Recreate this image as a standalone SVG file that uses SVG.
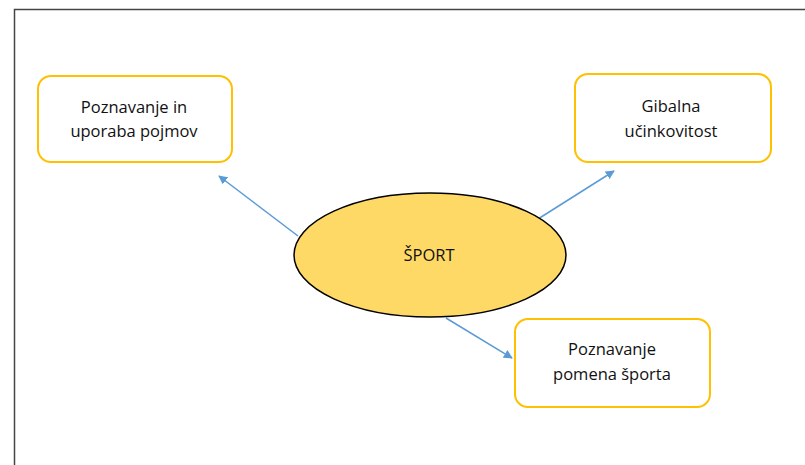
<svg xmlns="http://www.w3.org/2000/svg" width="805" height="465" viewBox="0 0 805 465">
<style>
.box{fill:#fff;stroke:#FFC000;stroke-width:2}
.t{font-family:"Open Sans","Noto Sans",sans-serif;font-size:16.5px;font-weight:500;fill:#111;text-anchor:middle}
.c{stroke:#5B9BD5;stroke-width:1.5;fill:none}
</style>
<defs>
<marker id="ah" viewBox="0 0 10 10" refX="9" refY="5" markerWidth="6" markerHeight="6" orient="auto" markerUnits="strokeWidth">
<path d="M0,0 L10,5 L0,10 z" fill="#5B9BD5"/>
</marker>
</defs>
<rect width="805" height="465" fill="#fff"/>
<path d="M14.5,465 V9.5 H805" fill="none" stroke="#444" stroke-width="1.5"/>
<g id="connectors">
<line class="c" x1="298" y1="236" x2="219" y2="176" marker-end="url(#ah)"/>
<line class="c" x1="538" y1="219" x2="614" y2="171" marker-end="url(#ah)"/>
<line class="c" x1="446" y1="318" x2="512" y2="358" marker-end="url(#ah)"/>
</g>
<g id="sport">
<ellipse cx="430" cy="255" rx="136" ry="62" fill="#FFD966" stroke="#000" stroke-width="1.5"/>
<text class="t" x="429" y="261">ŠPORT</text>
</g>
<g id="pojmi">
<rect class="box" x="38" y="76" width="194" height="86" rx="13"/>
<text class="t" x="134" y="113">Poznavanje in</text>
<text class="t" x="134" y="137">uporaba pojmov</text>
</g>
<g id="gibalna">
<rect class="box" x="575" y="74" width="196" height="88" rx="13"/>
<text class="t" x="671" y="112">Gibalna</text>
<text class="t" x="671" y="137">učinkovitost</text>
</g>
<g id="pomen">
<rect class="box" x="515" y="319" width="195" height="88" rx="13"/>
<text class="t" x="612" y="355">Poznavanje</text>
<text class="t" x="612" y="380">pomena športa</text>
</g>
</svg>
